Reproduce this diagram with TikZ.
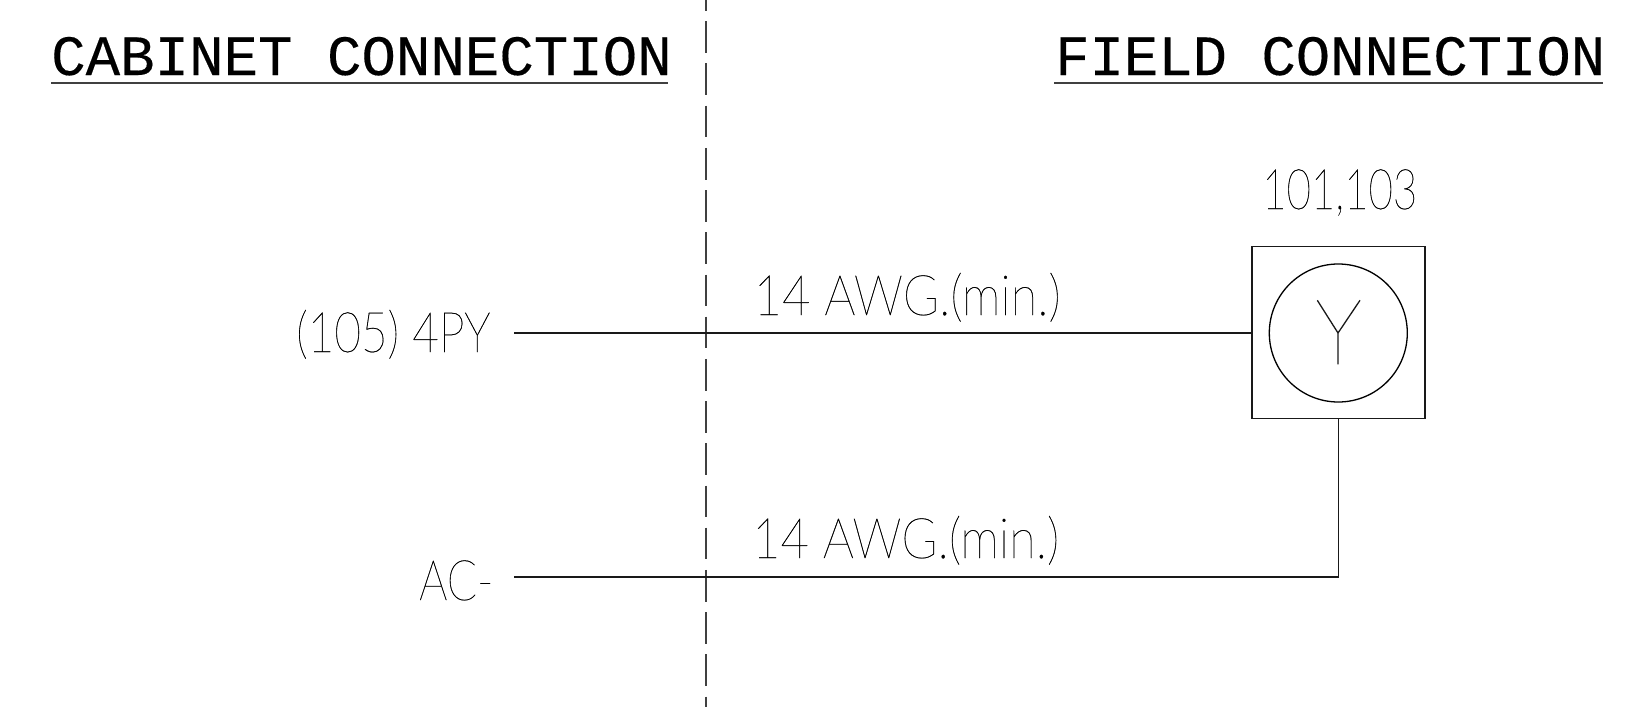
\documentclass[tikz,border=0pt]{standalone}
\usepackage{fontspec}
\setmainfont{Liberation Sans}
\newfontfamily\titlefont[FakeBold=0.25]{Liberation Mono}
\newfontfamily\thinfont[FakeBold=0.4]{Lato Hairline}
\newcommand{\hsq}[2]{\scalebox{#1}[1]{#2}}
\tikzset{
  wire/.style={line width=1.3pt,black!90},
  rule/.style={line width=1.3pt,black!75},
  titletext/.style={font=\titlefont\fontsize{57}{57}\selectfont,inner sep=0pt,anchor=base west},
  thintext/.style={font=\thinfont\fontsize{56}{56}\selectfont,inner sep=0pt,anchor=base west,text=black},
  divider/.style={line width=1.4pt,black!75,dash pattern=on 31.6pt off 10.6pt,dash phase=20.9pt},
}
\begin{document}
\begin{tikzpicture}[x=1pt,y=-1pt]
\useasboundingbox (0,0) rectangle (1633,717);
\fill[white] (0,0) rectangle (1633,717);
\coordinate (dtop) at (706,0);
\coordinate (dbot) at (706,707);
\draw[divider] (dtop) -- (dbot);
\node[titletext] (cab) at (51,75) {\hsq{1.008}{CABINET CONNECTION}};
\node[titletext] (fld) at (1055,75) {\hsq{1.005}{FIELD CONNECTION}};
\coordinate (cabL) at (51,83); \coordinate (cabR) at (668,83);
\coordinate (fldL) at (1054,83); \coordinate (fldR) at (1603,83);
\draw[rule] (cabL) -- (cabR);
\draw[rule] (fldL) -- (fldR);
\node[thintext] (lab1) at (296,352) {\hsq{0.82}{(105) 4PY}};
\node[thintext] (lab2) at (419,600) {\hsq{0.79}{AC-}};
\node[thintext] (awg1) at (753.5,315) {\hsq{0.873}{14 AWG.(min.)}};
\node[thintext] (awg2) at (752,558) {\hsq{0.873}{14 AWG.(min.)}};
\node[thintext] (dev) at (1262,209) {\hsq{0.75}{101,103}};
\node[draw,line width=1.3pt,black!90,minimum width=173pt,minimum height=172.5pt,inner sep=0pt,anchor=center] (box) at (1338.5,332.5) {};
\node[draw,circle,line width=1.3pt,minimum size=138pt,inner sep=0pt] (circ) at (1338.3,333) {};
\coordinate (w1) at (514,333);
\coordinate (w2) at (514,577);
\coordinate (yc) at (1338,333);
\coordinate (ya) at (1317.3,300.3);
\coordinate (yb) at (1360,300.3);
\coordinate (ys) at (1338,364.3);
\draw[wire] (w1) -- (box.west |- w1);
\draw[wire] (box.south) -- (box.south |- w2) -- (w2);
\draw[wire] (ya) -- (yc) -- (yb) (yc) -- (ys);
\end{tikzpicture}
\end{document}
